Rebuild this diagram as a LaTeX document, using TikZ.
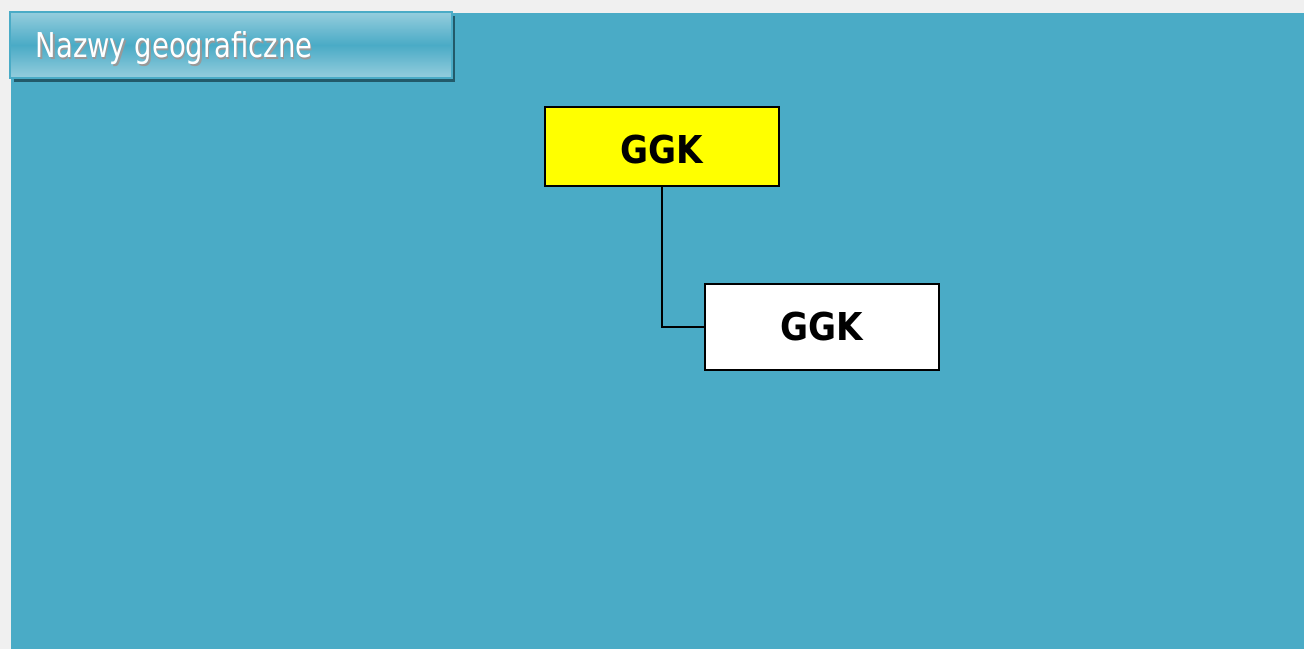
\documentclass[tikz,border=0pt]{standalone}
\usepackage{fontspec}
\setmainfont{DejaVu Sans}
\newfontfamily\tabfont[FakeStretch=0.80]{DejaVu Sans}
\newfontfamily\boxfont[FakeStretch=0.89]{DejaVu Sans}
\usepackage{tikz}
\usetikzlibrary{positioning}
\definecolor{pagegray}{HTML}{F0F0F0}
\definecolor{panelblue}{HTML}{4AABC6}
\definecolor{tablight}{HTML}{95CDDD}
\definecolor{tabshadow}{HTML}{225A6A}
\definecolor{ggkyellow}{HTML}{FFFF00}
\tikzset{
  orgbox/.style={draw=black,line width=1.5pt,minimum width=234*0.75pt,text=black,font=\boxfont\fontsize{28.8}{32}\selectfont\bfseries},
  tabtext/.style={anchor=base west,font=\tabfont\fontsize{25.7}{30}\selectfont},
  link/.style={draw=black,line width=1.5pt}
}
\begin{document}
\begin{tikzpicture}[x=0.75pt,y=-0.75pt]
    % background and panel
        \fill[pagegray] (0,0) rectangle (1304,649);
        \fill[panelblue] (11,13) rectangle (1304,649);
        \useasboundingbox (0,0) rectangle (1304,649);

    % title tab
        \fill[tabshadow] (14,16) rectangle (455,82);
        \shade[top color=tablight,bottom color=tablight,middle color=panelblue,draw=panelblue,line width=1.5pt] (10,12) rectangle (452,78);
        \node[tabtext,text=black!40] at (32.5,59.5) {Nazwy geograficzne};
        \node[tabtext,text=white] (title) at (31,58) {Nazwy geograficzne};

    % the two boxes
        \node[orgbox,fill=ggkyellow,minimum height=79*0.75pt,text height=26.25pt,text depth=0pt] (ggk1) at (662,146.5) {GGK};
        \node[orgbox,fill=white,minimum height=86*0.75pt] (ggk2) at (822,327) {GGK};

    % connect them
        \draw[link] (ggk1.south) |- (ggk2.west);
\end{tikzpicture}
\end{document}
